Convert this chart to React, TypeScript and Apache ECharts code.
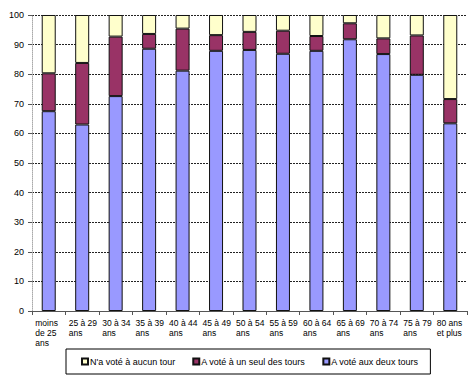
import React, { useEffect, useRef } from "react";
import * as echarts from "echarts";

const categories = [
  "moins\nde 25\nans",
  "25 à 29\nans",
  "30 à 34\nans",
  "35 à 39\nans",
  "40 à 44\nans",
  "45 à 49\nans",
  "50 à 54\nans",
  "55 à 59\nans",
  "60 à 64\nans",
  "65 à 69\nans",
  "70 à 74\nans",
  "75 à 79\nans",
  "80 ans\net plus",
];

const deuxTours = [67.5, 63.0, 72.6, 88.6, 81.2, 87.9, 88.2, 86.9, 87.9, 91.8, 86.8, 79.8, 63.4];
const unSeulTour = [12.8, 20.8, 20.1, 5.0, 14.2, 5.3, 6.1, 7.8, 5.0, 5.4, 5.3, 13.3, 8.2];
const aucunTour = [19.7, 16.2, 7.3, 6.4, 4.6, 6.8, 5.7, 5.3, 7.1, 2.8, 7.9, 6.9, 28.4];

const seriesNames = ["N'a voté à aucun tour", "A voté à un seul des tours", "A voté aux deux tours"];

const FONT = "'Liberation Sans', Arial, sans-serif";

export default function App() {
  const ref = useRef<HTMLDivElement>(null);

  useEffect(() => {
    if (!ref.current) return;
    const chart = echarts.init(ref.current, undefined, { renderer: "svg" });
    const barStyle = (color: string) => ({
      color,
      borderColor: "#111",
      borderWidth: 1,
    });
    chart.setOption({
      animation: false,
      backgroundColor: "#ffffff",
      textStyle: { fontFamily: FONT },
      grid: { left: 32, right: 4, top: 15, bottom: 69 },
      legend: {
        data: seriesNames,
        left: 66,
        top: 349,
        orient: "horizontal",
        borderColor: "#000",
        borderWidth: 1,
        padding: [8, 12, 8, 15],
        itemGap: 17,
        itemWidth: 6,
        itemHeight: 6,
        icon: "rect",
        textStyle: { fontSize: 9, color: "#000", fontFamily: FONT, padding: [0, 0, 0, -3] },
      },
      xAxis: {
        type: "category",
        data: categories,
        axisLine: { lineStyle: { color: "#555", width: 1 } },
        axisTick: { show: true, length: 4, lineStyle: { color: "#555" }, alignWithLabel: false },
        axisLabel: {
          interval: 0,
          margin: 7,
          color: "#000",
          fontSize: 8.5,
          lineHeight: 10,
          fontFamily: FONT,
          formatter: (v: string) =>
            v
              .split("\n")
              .map((l) => `{a|${l}}`)
              .join("\n"),
          rich: {
            a: { width: 27, align: "left", fontSize: 8.5, lineHeight: 10, fontFamily: FONT, color: "#000" },
          },
        },
      },
      yAxis: {
        type: "value",
        min: 0,
        max: 100,
        interval: 10,
        axisLine: { show: true, lineStyle: { color: "#aaa", type: [1, 1] } },
        axisTick: { show: true, length: 4, lineStyle: { color: "#555" } },
        axisLabel: { color: "#000", fontSize: 9, margin: 8, fontFamily: FONT },
        splitLine: { show: true, lineStyle: { color: "#222", type: [2, 1], width: 1 } },
      },
      series: [
        {
          name: seriesNames[2],
          type: "bar",
          stack: "total",
          barWidth: 14,
          data: deuxTours,
          itemStyle: barStyle("#9999FF"),
        },
        {
          name: seriesNames[1],
          type: "bar",
          stack: "total",
          barWidth: 14,
          data: unSeulTour,
          itemStyle: barStyle("#993366"),
        },
        {
          name: seriesNames[0],
          type: "bar",
          stack: "total",
          barWidth: 14,
          data: aucunTour,
          itemStyle: barStyle("#FFFFCC"),
        },
      ],
    });
    return () => chart.dispose();
  }, []);

  return <div ref={ref} style={{ width: 471, height: 380, position: "absolute", left: 0, top: 0 }} />;
}
